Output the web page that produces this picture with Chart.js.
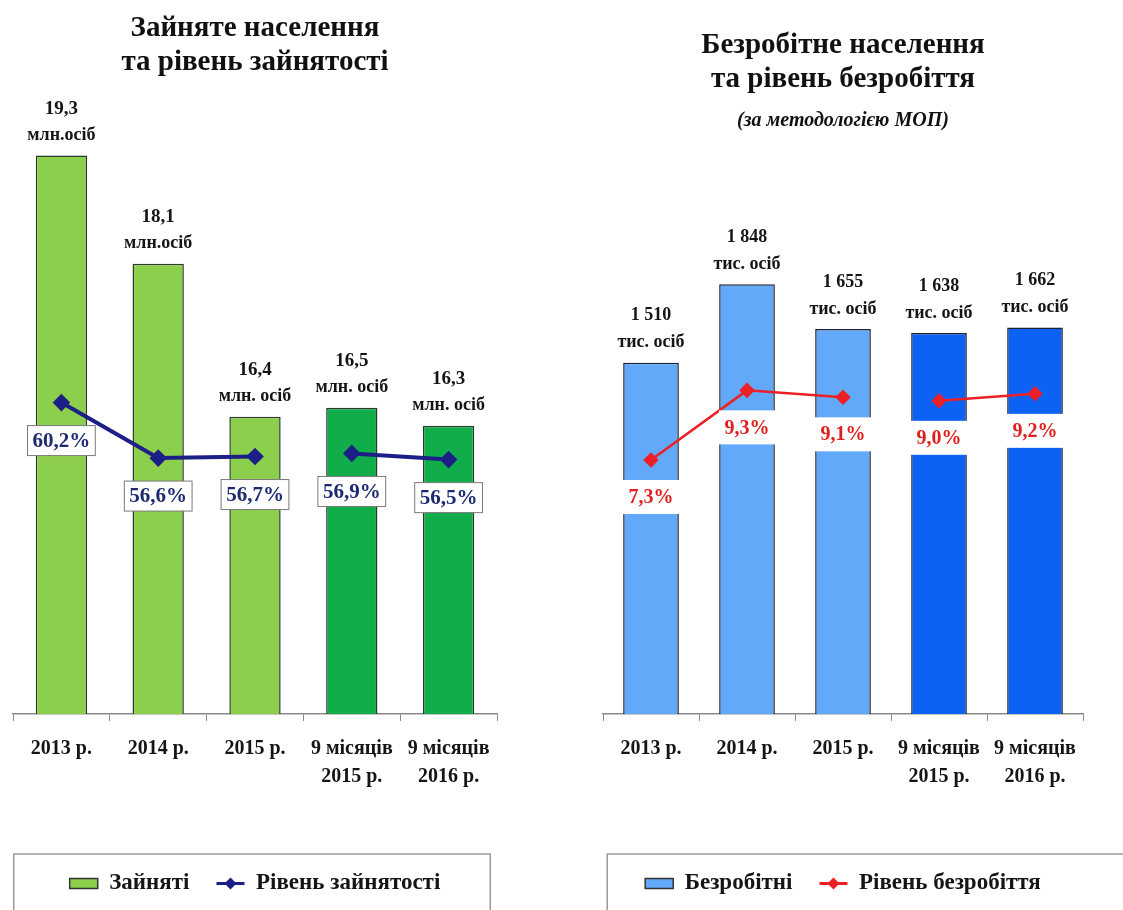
<!DOCTYPE html>
<html>
<head>
<meta charset="utf-8">
<script src="https://cdn.jsdelivr.net/npm/chart.js@4.4.1/dist/chart.umd.min.js"></script>
<style>
  html, body { margin: 0; padding: 0; background: #fff; }
  .wrap { position: absolute; top: 0; height: 910px; }
  #left { left: 0; width: 560px; }
  #right { left: 560px; width: 563px; }
</style>
</head>
<body>
<div class="wrap" id="left"><canvas id="employedChart" width="560" height="910"></canvas></div>
<div class="wrap" id="right"><canvas id="unemployedChart" width="563" height="910"></canvas></div>
<script>
var periods = ['2013 р.', '2014 р.', '2015 р.', ['9 місяців', '2015 р.'], ['9 місяців', '2016 р.']];

// зайняте населення, млн осіб, та рівень зайнятості, %
var employed = [19.3, 18.1, 16.4, 16.5, 16.3];
var employedUnits = ['млн.осіб', 'млн.осіб', 'млн. осіб', 'млн. осіб', 'млн. осіб'];
var employmentRate = [60.2, 56.6, 56.7, 56.9, 56.5];

// безробітне населення, тис. осіб, та рівень безробіття, %
var unemployed = [1510, 1848, 1655, 1638, 1662];
var unemployedUnits = ['тис. осіб', 'тис. осіб', 'тис. осіб', 'тис. осіб', 'тис. осіб'];
var unemploymentRate = [7.3, 9.3, 9.1, 9.0, 9.2];

var serif = "'Liberation Serif', 'Times New Roman', serif";

function comma(v) { return v.toFixed(1).replace('.', ','); }
function thousands(v) { return String(v).replace(/\B(?=(\d{3})+(?!\d))/g, ' '); }

// підписи над стовпчиками та рамки з відсотками під точками
var labelPlugin = {
    id: 'valueLabels',
    afterDatasetsDraw: function (chart, args, o) {
        var ctx = chart.ctx;
        var bars = chart.getDatasetMeta(0).data;
        var pts = chart.getDatasetMeta(1).data;
        ctx.save();
        ctx.textAlign = 'center';
        ctx.textBaseline = 'middle';
        bars.forEach(function (bar, i) {
            ctx.fillStyle = '#151515';
            ctx.font = 'bold ' + o.valueSize + 'px ' + serif;
            ctx.fillText(o.valueText[i], bar.x, bar.y - o.valueGap);
            ctx.font = 'bold ' + o.unitSize + 'px ' + serif;
            ctx.fillText(o.unitText[i], bar.x, bar.y - o.unitGap);
        });
        pts.forEach(function (pt, i) {
            ctx.font = 'bold ' + o.rateSize + 'px ' + serif;
            var text = o.rateText[i];
            var w = Math.max(ctx.measureText(text).width + 10, o.boxMinWidth);
            var h = o.boxHeight;
            var cy = pt.y + o.boxGap;
            ctx.fillStyle = '#fff';
            ctx.fillRect(pt.x - w / 2, cy - h / 2, w, h);
            if (o.boxBorder) {
                ctx.strokeStyle = o.boxBorder;
                ctx.lineWidth = 1;
                ctx.strokeRect(pt.x - w / 2, cy - h / 2, w, h);
            }
            ctx.fillStyle = o.rateColor;
            ctx.fillText(text, pt.x, cy + 1);
        });
        ctx.restore();
    }
};

// рамка навколо легенди і ромбик на лінії
var legendFrame = {
    id: 'legendFrame',
    afterDraw: function (chart, args, o) {
        var boxes = chart.legend.legendHitBoxes;
        if (!boxes || !boxes.length) return;
        var ctx = chart.ctx;
        var first = boxes[0], last = boxes[boxes.length - 1];
        ctx.save();
        ctx.strokeStyle = '#9a9a9a';
        ctx.lineWidth = 1.5;
        ctx.strokeRect(first.left - o.marginLeft, first.top - o.marginTop,
            last.left + last.width - first.left + o.marginLeft + o.marginRight, chart.height);
        var b = boxes[1];
        var cx = b.left + 14, cy = b.top + b.height / 2;
        ctx.fillStyle = o.markerColor;
        ctx.beginPath();
        ctx.moveTo(cx, cy - 6);
        ctx.lineTo(cx + 6, cy);
        ctx.lineTo(cx, cy + 6);
        ctx.lineTo(cx - 6, cy);
        ctx.closePath();
        ctx.fill();
        ctx.restore();
    }
};

function buildChart(canvasId, s) {
    return new Chart(document.getElementById(canvasId), {
        type: 'bar',
        data: {
            labels: periods,
            datasets: [{
                type: 'bar',
                label: s.barLabel,
                data: s.bars,
                order: 2,
                yAxisID: 'y',
                backgroundColor: s.barColors,
                borderColor: s.barBorder,
                borderWidth: 1.5,
                barPercentage: s.barPct,
                categoryPercentage: 1
            }, {
                type: 'line',
                label: s.lineLabel,
                data: s.rates,
                order: 1,
                yAxisID: 'y2',
                borderColor: s.lineColor,
                borderWidth: s.lineWidth,
                pointStyle: 'rectRot',
                pointRadius: 6,
                pointBackgroundColor: s.lineColor,
                pointBorderColor: s.lineColor,
                segment: {
                    // між 2015 р. і 9 місяцями лінія перервана
                    borderColor: function (c) { return c.p0DataIndex === 2 ? 'rgba(0,0,0,0)' : s.lineColor; }
                }
            }]
        },
        options: {
            responsive: false,
            animation: false,
            layout: { padding: s.padding },
            scales: {
                x: {
                    grid: { drawOnChartArea: false, drawTicks: true, tickLength: 7, color: '#8a8a8a', offset: true },
                    border: { display: true, color: '#8a8a8a', width: 1.5 },
                    ticks: {
                        color: '#151515',
                        font: { family: serif, size: 20, weight: 'bold', lineHeight: 1.4 },
                        padding: 14,
                        maxRotation: 0,
                        autoSkip: false
                    },
                    afterFit: function (scale) { scale.height = 131; }
                },
                y: { display: false, min: s.yMin, max: s.yMax },
                y2: { display: false, min: s.rMin, max: s.rMax }
            },
            plugins: {
                title: {
                    display: true,
                    text: s.title,
                    color: '#111',
                    font: { family: serif, size: 29, weight: 'bold', lineHeight: 1.17 },
                    padding: s.titlePadding
                },
                subtitle: {
                    display: !!s.subtitle,
                    text: s.subtitle || '',
                    color: '#111',
                    font: { family: serif, size: 20, weight: 'bold', style: 'italic', lineHeight: 1.2 },
                    padding: { top: 0, bottom: 16 }
                },
                legend: {
                    position: 'bottom',
                    labels: {
                        usePointStyle: true,
                        pointStyleWidth: 28,
                        boxHeight: 10,
                        padding: 27,
                        color: '#151515',
                        font: { family: serif, size: 23, weight: 'bold' },
                        generateLabels: function () {
                            return [
                                { text: s.barLabel, fillStyle: s.barColors[0], strokeStyle: '#333', lineWidth: 1.5, pointStyle: 'rect', fontColor: '#151515', datasetIndex: 0, hidden: false },
                                { text: s.lineLabel, fillStyle: s.lineColor, strokeStyle: s.lineColor, lineWidth: 3, pointStyle: 'line', fontColor: '#151515', datasetIndex: 1, hidden: false }
                            ];
                        }
                    }
                },
                tooltip: { enabled: false },
                valueLabels: {
                    valueText: s.valueText,
                    unitText: s.unitText,
                    valueSize: s.valueSize,
                    unitSize: s.unitSize,
                    valueGap: 47,
                    unitGap: 20,
                    rateText: s.rates.map(function (v) { return comma(v) + '%'; }),
                    rateSize: s.rateSize,
                    rateColor: s.rateColor,
                    boxMinWidth: s.boxMinWidth,
                    boxHeight: s.boxHeight,
                    boxGap: s.boxGap,
                    boxBorder: s.boxBorder
                },
                legendFrame: {
                    marginLeft: s.frameLeft,
                    marginRight: s.frameRight,
                    marginTop: 18,
                    markerColor: s.lineColor
                }
            }
        },
        plugins: [labelPlugin, legendFrame]
    });
}

buildChart('employedChart', {
    title: ['Зайняте населення', 'та рівень зайнятості'],
    titlePadding: { top: 12, bottom: 19 },
    padding: { left: 13, right: 63, top: 0, bottom: 5 },
    barLabel: 'Зайняті',
    lineLabel: 'Рівень зайнятості',
    bars: employed,
    rates: employmentRate,
    valueText: employed.map(comma),
    unitText: employedUnits,
    valueSize: 19,
    unitSize: 18,
    barColors: ['#8ccf4d', '#8ccf4d', '#8ccf4d', '#12ad4b', '#12ad4b'],
    barBorder: '#2b3a2b',
    barPct: 0.53,
    lineColor: '#1b1f86',
    lineWidth: 4,
    rateSize: 21,
    rateColor: '#1d2a70',
    boxMinWidth: 0,
    boxHeight: 30,
    boxGap: 38,
    boxBorder: '#7a7a7a',
    yMin: 13.1, yMax: 19.93,
    rMin: 40, rMax: 79.9,
    frameLeft: 56, frameRight: 50
});

buildChart('unemployedChart', {
    title: ['Безробітне населення', 'та рівень безробіття'],
    subtitle: '(за методологією МОП)',
    titlePadding: { top: 29, bottom: 12 },
    padding: { left: 43, right: 40, top: 0, bottom: 5 },
    barLabel: 'Безробітні',
    lineLabel: 'Рівень безробіття',
    bars: unemployed,
    rates: unemploymentRate,
    valueText: unemployed.map(thousands),
    unitText: unemployedUnits,
    valueSize: 18,
    unitSize: 18,
    barColors: ['#63a9fa', '#63a9fa', '#63a9fa', '#0b62f5', '#0b62f5'],
    barBorder: '#1c2233',
    barPct: 0.58,
    lineColor: '#ec2027',
    lineWidth: 2.5,
    rateSize: 20,
    rateColor: '#e0201e',
    boxMinWidth: 56,
    boxHeight: 34,
    boxGap: 37,
    boxBorder: null,
    yMin: 0, yMax: 2430,
    rMin: 0, rMax: 16.24,
    frameLeft: 38, frameRight: 150
});
</script>
</body>
</html>
